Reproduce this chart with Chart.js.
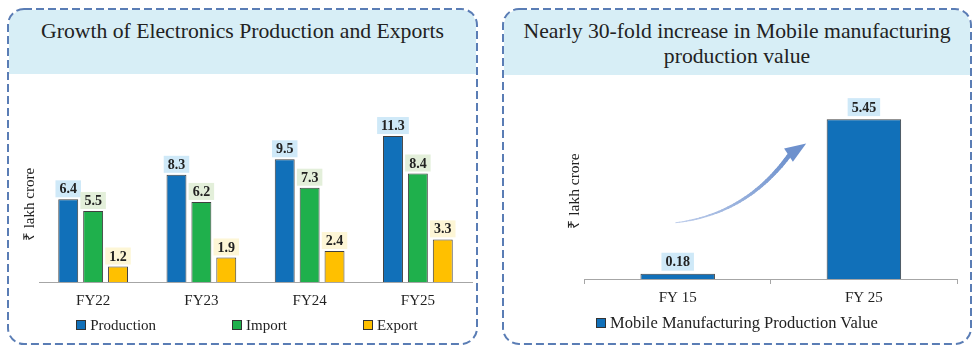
<!DOCTYPE html>
<html><head><meta charset="utf-8">
<script src="https://cdn.jsdelivr.net/npm/chart.js@4.4.1/dist/chart.umd.min.js"></script>
<style>
body{margin:0;width:980px;height:350px;background:#fff;position:relative;overflow:hidden;font-family:'Liberation Serif',serif;color:#222;}
.hdr{position:absolute;background:#d7eef6;text-align:center;font-size:21.7px;color:#222;box-sizing:border-box;}
svg.frame{position:absolute;left:0;top:0;}
.cv{position:absolute;}
.legend{position:absolute;display:flex;justify-content:center;align-items:center;font-size:15px;color:#222;white-space:nowrap;}
.legend .it{display:flex;align-items:center;}
.legend .bx{width:8px;height:8px;border:1px solid #333;margin-right:4px;}
</style>
</head><body>
<div class="hdr" style="left:9px;top:10px;width:467px;height:64px;border-radius:15px 15px 0 0;padding-top:8px;line-height:27px;">Growth of Electronics Production and Exports</div>
<div class="hdr" style="left:504px;top:10px;width:466px;height:65px;border-radius:15px 15px 0 0;padding-top:9px;line-height:25px;">Nearly 30-fold increase in Mobile manufacturing<br>production value</div>
<svg class="frame" width="980" height="350">
<rect x="8" y="9" width="469" height="335" rx="16" ry="16" fill="none" stroke="#5a7db5" stroke-width="2" stroke-dasharray="8 4"/>
<rect x="503" y="9" width="468" height="335" rx="16" ry="16" fill="none" stroke="#5a7db5" stroke-width="2" stroke-dasharray="8 4"/>
</svg>
<div class="cv" style="left:10px;top:76px;width:466px;height:244px;"><canvas id="c1"></canvas></div>
<div class="cv" style="left:505px;top:76px;width:464px;height:236px;"><canvas id="c2"></canvas></div>
<div class="legend" id="lg1" style="left:14px;top:316px;width:466px;height:18px;gap:76px;"></div>
<div class="legend" id="lg2" style="left:505px;top:314px;width:464px;height:18px;font-size:16.5px;"></div>
<script>
// ---- data ----
const categories = ['FY22', 'FY23', 'FY24', 'FY25'];
const seriesNames = ['Production', 'Import', 'Export'];
const production = [6.4, 8.3, 9.5, 11.3];
const imports = [5.5, 6.2, 7.3, 8.4];
const exportsData = [1.2, 1.9, 2.4, 3.3];
const mobileCategories = ['FY 15', 'FY 25'];
const mobileSeriesName = 'Mobile Manufacturing Production Value';
const mobileValues = [0.18, 5.45];
const yTitle = '₹ lakh crore';

// ---- styles ----
const barColors = ['#1170b9', '#1fb04c', '#ffc000'];
const labelBg = ['#cfe9f8', '#e3efda', '#fdf6d6'];
const mobileColor = '#1170b9';
const mobileLabelBg = '#cfe9f8';
const serif = "'Liberation Serif', serif";

const labelPlugin = {
  id: 'boxLabels',
  afterDatasetsDraw(chart, args, opts) {
    const ctx = chart.ctx;
    ctx.save();
    ctx.font = 'bold 14px ' + serif;
    ctx.textAlign = 'center';
    ctx.textBaseline = 'middle';
    chart.data.datasets.forEach((ds, di) => {
      const meta = chart.getDatasetMeta(di);
      meta.data.forEach((bar, i) => {
        const txt = String(ds.data[i]);
        const w = ctx.measureText(txt).width + 8;
        const h = opts.boxH || 17;
        const x = bar.x, yb = bar.y - (opts.gap || 2);
        ctx.fillStyle = opts.bg[di];
        ctx.fillRect(x - w / 2, yb - h, w, h);
        ctx.fillStyle = '#222';
        ctx.fillText(txt, x, yb - h / 2 + 1);
      });
    });
    ctx.restore();
  }
};

const arrowPlugin = {
  id: 'curvedArrow',
  afterDatasetsDraw(chart) {
    const a = chart.chartArea, ctx = chart.ctx;
    const W = a.right - a.left, H = a.bottom - a.top;
    const P = (fx, fy) => [a.left + fx * W, a.top + fy * H];
    const p0 = P(0.245, 0.68), p1 = P(0.435, 0.632), p2 = P(0.552, 0.29), tip = P(0.595, 0.23);
    ctx.save();
    ctx.lineCap = 'round';
    const N = 40;
    const q = t => [(1 - t) * (1 - t) * p0[0] + 2 * (1 - t) * t * p1[0] + t * t * p2[0],
                    (1 - t) * (1 - t) * p0[1] + 2 * (1 - t) * t * p1[1] + t * t * p2[1]];
    for (let k = 0; k < N; k++) {
      const t0 = k / N, t1 = (k + 1) / N;
      const s = q(t0), e = q(t1);
      const c0 = [190, 205, 235], c1 = [110, 145, 205];
      const m = t0;
      ctx.strokeStyle = `rgb(${c0.map((v, j) => Math.round(v + (c1[j] - v) * m)).join(',')})`;
      ctx.lineWidth = 1 + 3.5 * t0;
      ctx.beginPath(); ctx.moveTo(s[0], s[1]); ctx.lineTo(e[0], e[1]); ctx.stroke();
    }
    const dx = tip[0] - p2[0], dy = tip[1] - p2[1];
    const L = Math.hypot(dx, dy), ux = dx / L, uy = dy / L;
    const hw = 8;
    ctx.fillStyle = 'rgb(110,145,205)';
    ctx.beginPath();
    ctx.moveTo(tip[0], tip[1]);
    ctx.lineTo(p2[0] - uy * hw - ux * 2, p2[1] + ux * hw - uy * 2);
    ctx.lineTo(p2[0] + uy * hw - ux * 2, p2[1] - ux * hw - uy * 2);
    ctx.closePath(); ctx.fill();
    ctx.restore();
  }
};

Chart.defaults.font.family = serif;
Chart.defaults.color = '#222';

new Chart(document.getElementById('c1'), {
  type: 'bar',
  data: {
    labels: categories,
    datasets: [production, imports, exportsData].map((d, i) => ({
      label: seriesNames[i], data: d, backgroundColor: barColors[i],
      borderColor: '#404040', borderWidth: 1,
      categoryPercentage: 0.69, barPercentage: 0.8
    }))
  },
  options: {
    responsive: true, maintainAspectRatio: false, animation: false,
    layout: { padding: { left: 0, right: 4, top: 51, bottom: 0 } },
    plugins: { legend: { display: false }, tooltip: { enabled: false },
      boxLabels: { bg: labelBg } },
    scales: {
      x: { grid: { display: false, drawTicks: false }, border: { color: '#a6a6a6' },
           ticks: { font: { size: 15 }, color: '#222', padding: 10 } },
      y: { min: 0, max: 12, grid: { display: false, drawTicks: false }, border: { display: false },
           ticks: { display: false },
           title: { display: true, text: yTitle, font: { size: 15 }, color: '#222', padding: { top: 11, bottom: 0 } } }
    }
  },
  plugins: [labelPlugin]
});

new Chart(document.getElementById('c2'), {
  type: 'bar',
  data: {
    labels: mobileCategories,
    datasets: [{ label: mobileSeriesName, data: mobileValues, backgroundColor: mobileColor,
      borderColor: '#404040', borderWidth: 1, categoryPercentage: 1, barPercentage: 0.4 }]
  },
  options: {
    responsive: true, maintainAspectRatio: false, animation: false,
    layout: { padding: { left: 52, right: 12, top: 27, bottom: 0 } },
    plugins: { legend: { display: false }, tooltip: { enabled: false },
      boxLabels: { bg: [mobileLabelBg], boxH: 18, gap: 3 } },
    scales: {
      x: { grid: { display: true, drawOnChartArea: false, drawTicks: true, tickLength: 5, offset: true, color: '#a6a6a6' },
           border: { color: '#a6a6a6' },
           ticks: { font: { size: 15 }, color: '#222', padding: 5 } },
      y: { min: 0, max: 6, grid: { display: false, drawTicks: false }, border: { display: false },
           ticks: { display: false },
           title: { display: true, text: yTitle, font: { size: 15.5 }, color: '#222', padding: { top: 9, bottom: 0 } } }
    }
  },
  plugins: [labelPlugin, arrowPlugin]
});

// HTML legends built from the series names/colors
function buildLegend(el, names, colors) {
  names.forEach((n, i) => {
    const it = document.createElement('div'); it.className = 'it';
    const b = document.createElement('div'); b.className = 'bx'; b.style.background = colors[i];
    const t = document.createElement('span'); t.textContent = n;
    it.appendChild(b); it.appendChild(t); el.appendChild(it);
  });
}
buildLegend(document.getElementById('lg1'), seriesNames, barColors);
buildLegend(document.getElementById('lg2'), [mobileSeriesName], [mobileColor]);
</script>
</body></html>
